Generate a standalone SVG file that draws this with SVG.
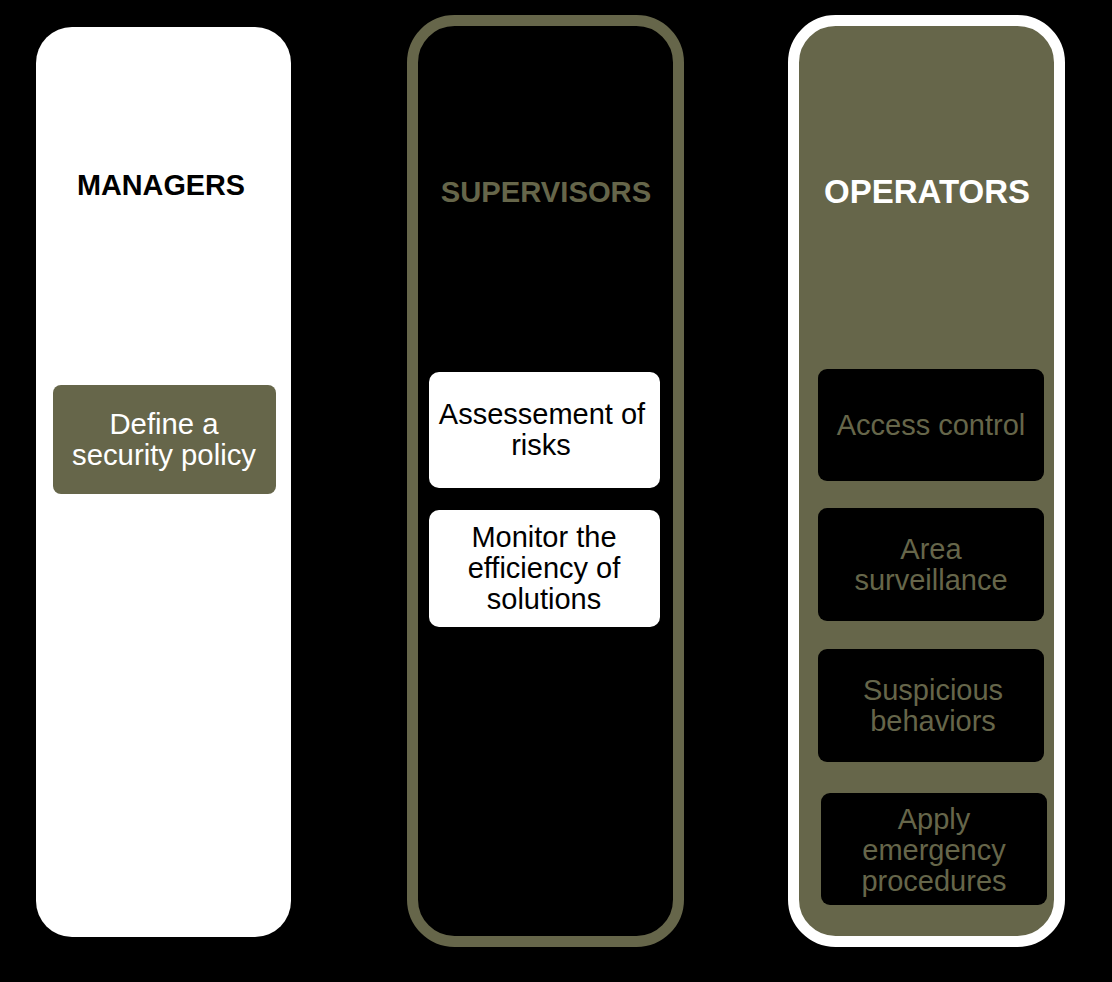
<svg xmlns="http://www.w3.org/2000/svg" width="1112" height="982" viewBox="0 0 1112 982">
<style>
text{font-family:"Liberation Sans",Arial,sans-serif;text-anchor:middle}
.h{font-weight:bold}
.t{font-size:29px}
.o{fill:#66664a}
.w{fill:#ffffff}
.k{fill:#000000}
</style>
<rect x="0" y="0" width="1112" height="982" fill="#000000"/>
<g id="managers">
<rect x="36" y="27" width="255" height="910" rx="36" fill="#ffffff"/>
<text x="161" y="195" class="h k" font-size="28.8">MANAGERS</text>
</g>
<g id="supervisors">
<rect x="412.5" y="20.5" width="266" height="921" rx="42" fill="#000000" stroke="#66664a" stroke-width="11"/>
<text x="546" y="202" class="h o" font-size="29.2">SUPERVISORS</text>
</g>
<g id="operators">
<rect x="793.5" y="20.5" width="266" height="921" rx="42" fill="#66664a" stroke="#ffffff" stroke-width="11"/>
<text x="927" y="203" class="h w" font-size="33">OPERATORS</text>
</g>
<g id="define">
<rect x="53" y="385" width="223" height="109" rx="8" fill="#66664a"/>
<text x="164" y="434" class="w" font-size="29.3">Define a</text>
<text x="164" y="465" class="w" font-size="29.3">security policy</text>
</g>
<g id="assess">
<rect x="429" y="372" width="231" height="116" rx="10" fill="#ffffff"/>
<text x="542" y="424" class="t k">Assessement of </text>
<text x="541" y="455" class="t k">risks</text>
</g>
<g id="monitor">
<rect x="429" y="510" width="231" height="117" rx="10" fill="#ffffff"/>
<text x="544" y="547" class="t k">Monitor the</text>
<text x="544" y="578" class="t k">efficiency of</text>
<text x="544" y="609" class="t k">solutions</text>
</g>
<g id="access">
<rect x="818" y="369" width="226" height="112" rx="9" fill="#000000"/>
<text x="931" y="435" class="t o">Access control</text>
</g>
<g id="area">
<rect x="818" y="508" width="226" height="113" rx="9" fill="#000000"/>
<text x="931" y="559" class="t o">Area</text>
<text x="931" y="590" class="t o">surveillance</text>
</g>
<g id="suspicious">
<rect x="818" y="649" width="226" height="113" rx="9" fill="#000000"/>
<text x="933" y="700" class="t o">Suspicious</text>
<text x="933" y="731" class="t o">behaviors</text>
</g>
<g id="emergency">
<rect x="821" y="793" width="226" height="112" rx="9" fill="#000000"/>
<text x="934" y="829" class="t o">Apply</text>
<text x="934" y="860" class="t o">emergency</text>
<text x="934" y="891" class="t o">procedures</text>
</g>
<g id="connectors"></g>
</svg>
